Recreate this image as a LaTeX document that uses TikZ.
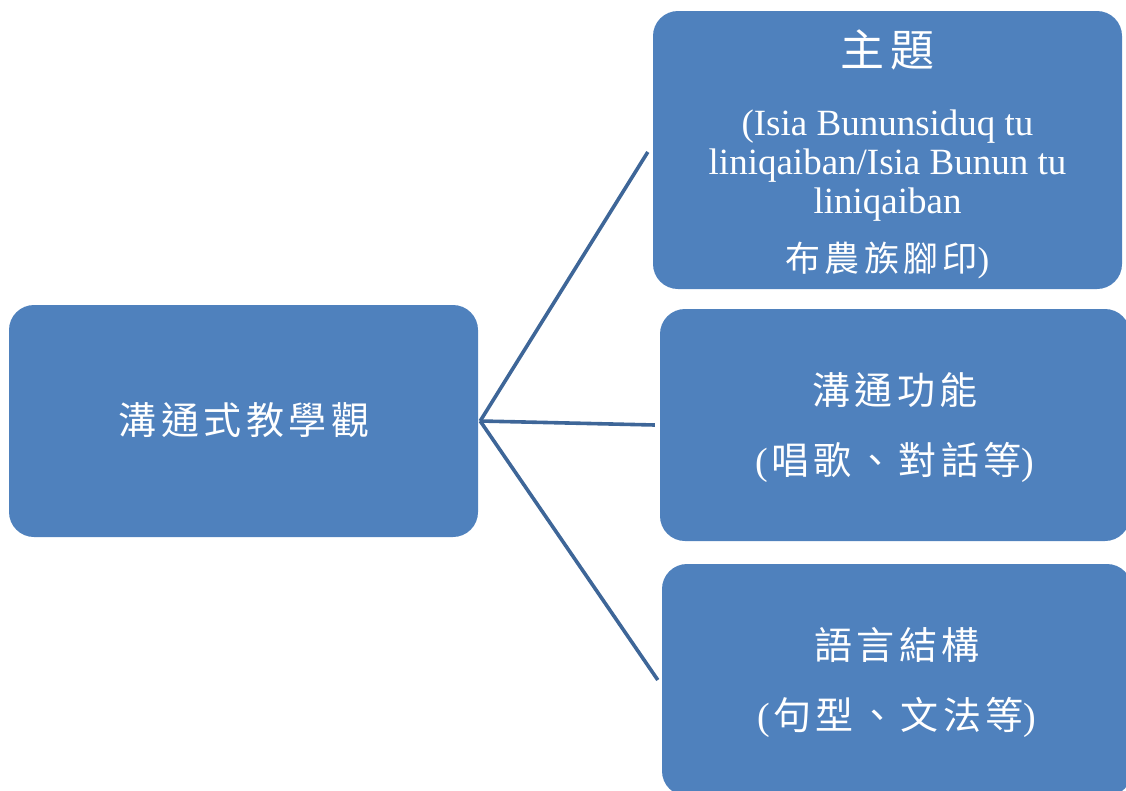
\documentclass[tikz,border=0pt]{standalone}
\usepackage{fontspec}
\setmainfont{Liberation Serif}
\newfontfamily\cjk[LetterSpace=12]{Noto Sans CJK TC}
\definecolor{boxblue}{RGB}{79,129,189}
\definecolor{linkblue}{RGB}{62,102,152}
\begin{document}
\begin{tikzpicture}[x=1pt,y=-1pt,
  box/.style={fill=boxblue,draw=none,rounded corners=25pt,inner sep=0pt},
  txt/.style={text=white,inner sep=0pt,anchor=base},
  link/.style={draw=linkblue,line width=3.6pt}]
\clip (0,0) rectangle (1126,790);
\useasboundingbox (0,0) rectangle (1126,790);
% boxes
\node[box,minimum width=469pt,minimum height=278pt] (top) at (887.5,150) {};
\node[box,minimum width=469pt,minimum height=232pt] (left) at (243.5,421) {};
\node[box,minimum width=470pt,minimum height=232pt] (mid) at (895,425) {};
\node[box,minimum width=470pt,minimum height=232pt] (bot) at (897,680) {};
% connectors
\draw[link] ([xshift=2pt]left.east) -- ([xshift=-5pt,yshift=-2pt]top.west);
\draw[link] ([xshift=2pt]left.east) -- ([xshift=-5pt]mid.west);
\draw[link] ([xshift=2pt]left.east) -- ([xshift=-4pt]bot.west);
% texts
\node[txt,font=\fontsize{44}{44}\selectfont] (t1) at (887.5,66) {\cjk 主題};
\node[txt,font=\fontsize{37}{39}\selectfont] (t2) at (887.5,135) {(Isia Bununsiduq tu};
\node[txt,font=\fontsize{37}{39}\selectfont] (t3) at (887.5,174) {liniqaiban/Isia Bunun tu};
\node[txt,font=\fontsize{37}{39}\selectfont] (t4) at (887.5,213) {liniqaiban};
\node[txt,font=\fontsize{35}{35}\selectfont] (t5) at (887.5,271) {{\cjk 布農族腳印})};
\node[txt,font=\fontsize{38}{38}\selectfont] (l1) at (244,434.5) {\cjk 溝通式教學觀};
\node[txt,font=\fontsize{38}{38}\selectfont] (m1) at (895,404.5) {\cjk 溝通功能};
\node[txt,font=\fontsize{38}{38}\selectfont] (m2) at (895,474) {(\hspace{3pt}{\cjk 唱歌、對話等})};
\node[txt,font=\fontsize{38}{38}\selectfont] (b1) at (897,659.5) {\cjk 語言結構};
\node[txt,font=\fontsize{38}{38}\selectfont] (b2) at (897,729) {(\hspace{3pt}{\cjk 句型、文法等})};
\end{tikzpicture}
\end{document}
